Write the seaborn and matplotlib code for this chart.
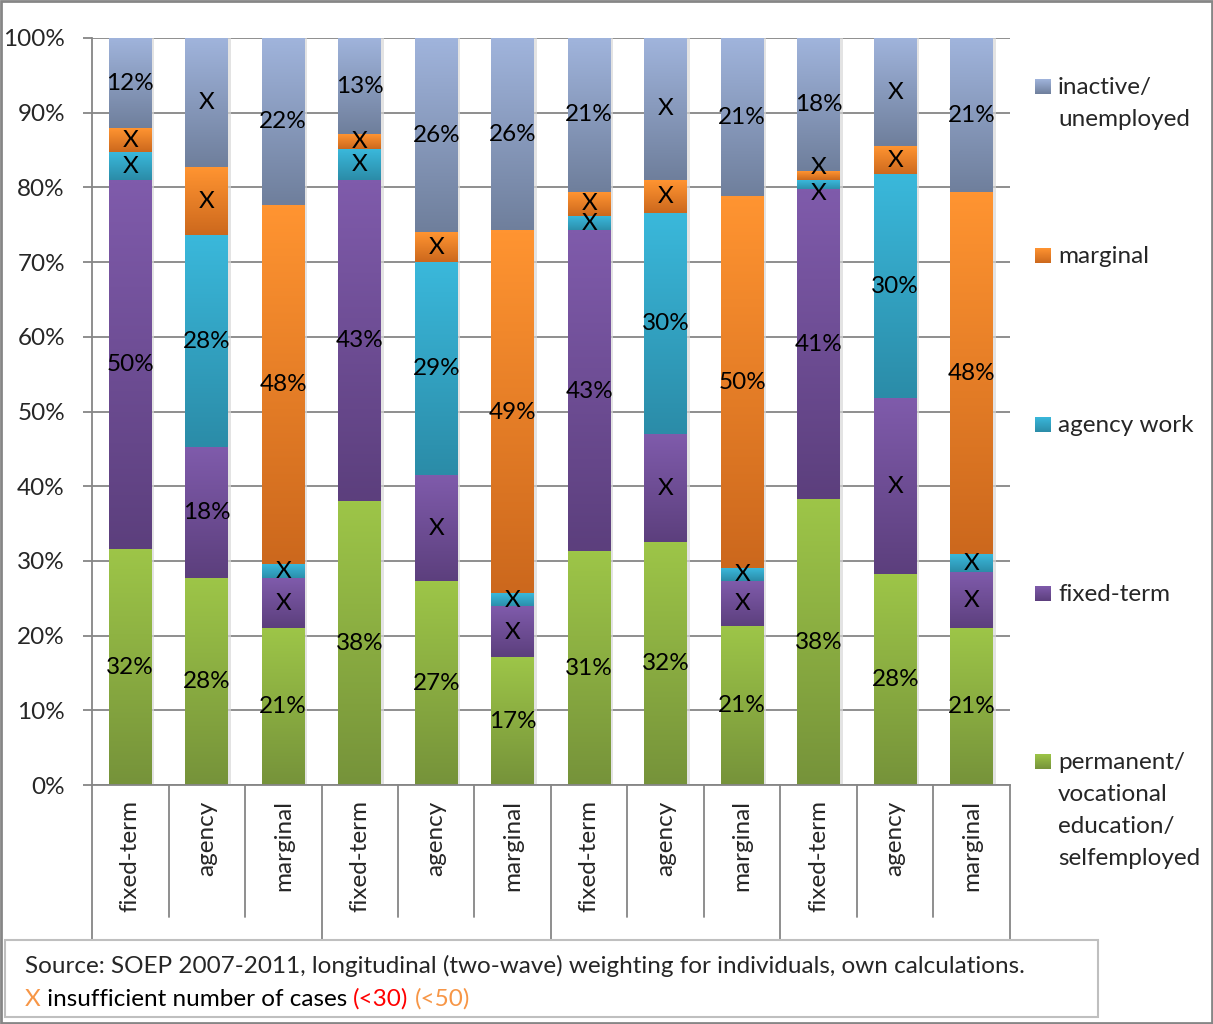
import numpy as np
import pandas as pd
import seaborn as sns
import matplotlib.pyplot as plt
from matplotlib.colors import to_rgb
from matplotlib.patches import Rectangle

# --- data (percent shares per bar, bottom to top) ---
categories = ['fixed-term', 'agency', 'marginal'] * 4
permanent = [31.5, 27.7, 21.0, 37.9, 27.2, 17.1, 31.2, 32.4, 21.2, 38.2, 28.2, 20.9]
fixed_term = [49.5, 17.5, 6.6, 43.1, 14.3, 6.7, 43.0, 14.5, 6.1, 41.5, 23.5, 7.6]
agency = [3.7, 28.3, 1.9, 4.1, 28.5, 1.8, 2.0, 29.7, 1.7, 1.3, 30.0, 2.3]
marginal = [3.1, 9.2, 48.1, 2.0, 4.0, 48.6, 3.2, 4.4, 49.7, 1.2, 3.8, 48.5]
inactive = [12.2, 17.3, 22.4, 12.9, 26.0, 25.8, 20.6, 19.0, 21.3, 17.8, 14.5, 20.7]

permanent_lbl = ['32%', '28%', '21%', '38%', '27%', '17%', '31%', '32%', '21%', '38%', '28%', '21%']
fixed_lbl = ['50%', '18%', 'X', '43%', 'X', 'X', '43%', 'X', 'X', '41%', 'X', 'X']
agency_lbl = ['X', '28%', 'X', 'X', '29%', 'X', 'X', '30%', 'X', 'X', '30%', 'X']
marginal_lbl = ['X', 'X', '48%', 'X', 'X', '49%', 'X', 'X', '50%', 'X', 'X', '48%']
inactive_lbl = ['12%', 'X', '22%', '13%', '26%', '26%', '21%', 'X', '21%', '18%', 'X', '21%']

legend_names = [['permanent/', 'vocational', 'education/', 'selfemployed'],
                ['fixed-term'], ['agency work'], ['marginal'],
                ['inactive/', 'unemployed']]

# gradient colours (top, bottom) per series
grad_cols = [('#9DC548', '#76933A'),
             ('#7F5BAB', '#5C3F7D'),
             ('#3AB8DB', '#2B8CA8'),
             ('#FF9431', '#CC681D'),
             ('#A0B4DC', '#6F7F9C')]

sns.set_style('white')
plt.rcParams['font.family'] = ['Lato', 'DejaVu Sans']
FS = 17.5
GRAY = '#868686'
W, H = 1213, 1024

fig = plt.figure(figsize=(W / 100, H / 100), dpi=100)
ax = fig.add_axes([92 / W, 1 - 785 / H, (1010 - 92) / W, (785 - 38) / H])

series = [permanent, fixed_term, agency, marginal, inactive]
labels = [permanent_lbl, fixed_lbl, agency_lbl, marginal_lbl, inactive_lbl]

df = pd.DataFrame({'slot': range(len(categories)), 'cat': categories})
bottom = np.zeros(len(categories))
for k, vals in enumerate(series):
    df[f'bot{k}'] = bottom
    bottom = bottom + np.array(vals)
    df[f'top{k}'] = bottom

t = np.linspace(0, 1, 64)[:, None, None]
for k in reversed(range(len(series))):
    n0 = len(ax.patches)
    sns.barplot(data=df, x='slot', y=f'top{k}', color=grad_cols[k][0],
                width=0.56, errorbar=None, ax=ax, zorder=2)
    top_c = np.array(to_rgb(grad_cols[k][0]))
    bot_c = np.array(to_rgb(grad_cols[k][1]))
    img = top_c * (1 - t) + bot_c * t
    for i, p in enumerate(ax.patches[n0:]):
        p.set_facecolor('none')
        p.set_edgecolor('none')
        x0, x1 = p.get_x(), p.get_x() + p.get_width()
        b, tp = df[f'bot{k}'][i], df[f'top{k}'][i]
        ax.imshow(img, extent=(x0, x1, b, tp), aspect='auto', origin='upper',
                  interpolation='bilinear', zorder=2)
        if k == len(series) - 1:
            # soft shadow on the right of each bar, like Excel
            ax.add_patch(Rectangle((x1, 0), 0.035, tp, color='#d8d8d8',
                                   lw=0, zorder=1.8, alpha=0.7))
        # nudge labels of very thin adjacent segments apart
        ym = (b + tp) / 2
        if tp - b < 1.5 and k in (2, 3):
            ym += 1.1 if k == 3 else -1.1
        ax.text((x0 + x1) / 2, ym, labels[k][i], ha='center',
                va='center', fontsize=FS, color='black', zorder=4)

ax.set_xlim(-0.5, len(categories) - 0.5)
ax.set_ylim(0, 100)
ax.set_xlabel('')
ax.set_ylabel('')

ax.set_axisbelow(True)
ax.yaxis.grid(True, color=GRAY, lw=1.3)
ax.set_yticks(range(0, 101, 10))
ax.set_yticklabels([f'{v}%' for v in range(0, 101, 10)], fontsize=FS)
ax.tick_params(axis='y', length=6.5, width=1.3, color=GRAY, pad=13, left=True)
ax.set_xticks(range(len(categories)))
ax.set_xticklabels(categories, rotation=90, fontsize=FS)
ax.tick_params(axis='x', length=0, pad=11)
for s in ['top', 'right']:
    ax.spines[s].set_visible(False)
for s in ['left', 'bottom']:
    ax.spines[s].set_color(GRAY)
    ax.spines[s].set_linewidth(1.3)

# category separators below the axis (two-level axis look)
tr = ax.get_xaxis_transform()
for i in range(len(categories) + 1):
    xpos = i - 0.5
    ybot = -0.2075 if i % 3 == 0 else -0.177
    ax.plot([xpos, xpos], [0, ybot], color=GRAY, lw=1.3, transform=tr,
            clip_on=False)

# legend (drawn manually to match Excel layout)
base_y = [769, 601, 432, 263, 94]
for k, lines in enumerate(legend_names):
    y0 = base_y[k]
    lax = fig.add_axes([1035 / W, 1 - y0 / H, 16 / W, 15 / H])
    top_c = np.array(to_rgb(grad_cols[k][0]))
    bot_c = np.array(to_rgb(grad_cols[k][1]))
    lax.imshow(top_c * (1 - t) + bot_c * t, aspect='auto', interpolation='bilinear')
    lax.axis('off')
    for j, line in enumerate(lines):
        fig.text(1058 / W, 1 - (y0 + 32 * j) / H, line, fontsize=FS,
                 va='baseline', ha='left')

# source box
fig.add_artist(Rectangle((5 / W, 1 - 1017 / H), (1098 - 5) / W, (1017 - 940) / H,
                         transform=fig.transFigure, fill=False,
                         edgecolor='#BFBFBF', lw=1.5))
fig.text(25 / W, 1 - 973 / H,
         'Source: SOEP 2007-2011, longitudinal (two-wave) weighting for individuals, own calculations.',
         fontsize=FS, va='baseline', ha='left')

pieces = [('X', '#F79646'), (' insufficient number of cases ', 'black'),
          ('(<30)', '#FF0000'), (' ', 'black'), ('(<50)', '#F79646')]
renderer = fig.canvas.get_renderer()
dot = fig.text(0, 0, '.', fontsize=FS)
dot_w = dot.get_window_extent(renderer).width
dot.remove()
prefix = ''
for txt, col in pieces:
    if prefix:
        m = fig.text(0, 0, prefix + '.', fontsize=FS)
        off = m.get_window_extent(renderer).width - dot_w
        m.remove()
    else:
        off = 0
    fig.text((25 + off) / W, 1 - 1006 / H, txt, fontsize=FS, color=col,
             va='baseline', ha='left')
    prefix += txt

# outer frame
fig.add_artist(Rectangle((0.001, 0.001), 0.998, 0.998, transform=fig.transFigure,
                         fill=False, edgecolor=GRAY, lw=2))

fig.savefig('out.png', dpi=100)
